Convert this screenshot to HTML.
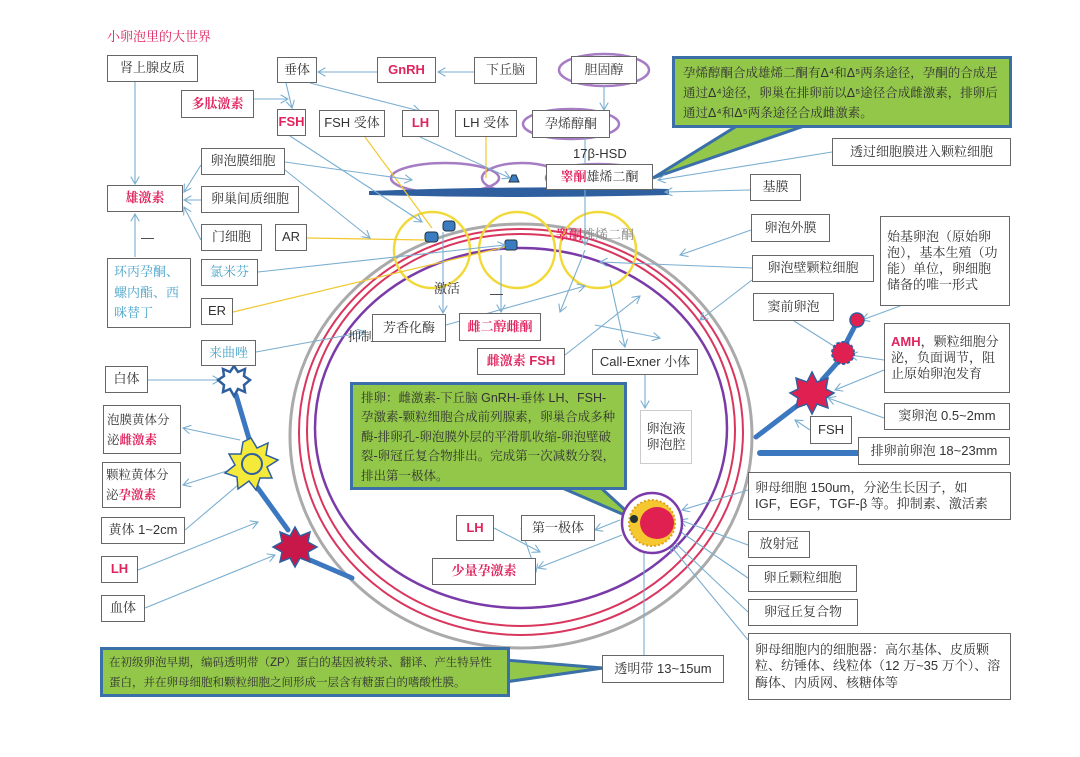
<!DOCTYPE html>
<html><head><meta charset="utf-8"><style>
body{margin:0;width:1080px;height:757px;background:#fff;position:relative;overflow:hidden;font-family:"Liberation Sans","Noto Serif CJK SC","Noto Sans CJK SC",serif;}
.b{position:absolute;border:1.5px solid #666;background:#fff;font-size:13px;color:#333;display:flex;align-items:center;justify-content:center;box-sizing:border-box;line-height:1.25;}
.r{color:#e0245e;font-weight:bold;}
.bl{color:#4aa3c8;}
.t{position:absolute;font-size:13px;color:#333;}
.g{position:absolute;background:#92c74a;border:3px solid #3a6fa8;box-sizing:border-box;font-size:12.5px;color:#333;padding:4px 8px;line-height:1.6;}
.m{justify-content:flex-start;padding:3px 6px;text-align:left;}
.s{padding:2px 3px;font-size:12.5px;}
svg{position:absolute;left:0;top:0}
</style></head><body>
<svg width="1080" height="757">
<defs><marker id="a" markerWidth="8" markerHeight="8" refX="7" refY="4" orient="auto"><path d="M0,0 L7,4 L0,8" fill="none" stroke="#7aaed0" stroke-width="1"/></marker></defs>
<polygon points="740,124 810,124 653,178" fill="#92c74a" stroke="#3a6fa8" stroke-width="3"/>
<polygon points="560,487 600,487 636,520" fill="#92c74a" stroke="#3a6fa8" stroke-width="3"/>
<polygon points="505,660 505,682 603,668" fill="#92c74a" stroke="#3a6fa8" stroke-width="3"/>
<ellipse cx="521" cy="436" rx="231" ry="212" fill="none" stroke="#aaa" stroke-width="3"/>
<ellipse cx="521" cy="432" rx="222" ry="203" fill="none" stroke="#d9365e" stroke-width="2"/>
<ellipse cx="521" cy="430" rx="214" ry="196" fill="none" stroke="#d9365e" stroke-width="2"/>
<ellipse cx="521" cy="428" rx="206" ry="180" fill="none" stroke="#7a3aa8" stroke-width="2.5"/>
<circle cx="432" cy="250" r="38" fill="none" stroke="#f2d93a" stroke-width="2.5"/>
<circle cx="517" cy="250" r="38" fill="none" stroke="#f2d93a" stroke-width="2.5"/>
<circle cx="598" cy="250" r="38" fill="none" stroke="#f2d93a" stroke-width="2.5"/>
<ellipse cx="445" cy="178" rx="54" ry="15" fill="none" stroke="#a67cc4" stroke-width="2.5"/>
<ellipse cx="522" cy="178" rx="40" ry="15" fill="none" stroke="#a67cc4" stroke-width="2.5"/>
<ellipse cx="598" cy="178" rx="52" ry="14" fill="none" stroke="#a67cc4" stroke-width="2.5"/>
<ellipse cx="604" cy="70" rx="45" ry="16" fill="none" stroke="#a67cc4" stroke-width="2.5"/>
<ellipse cx="571" cy="124" rx="48" ry="15" fill="none" stroke="#a67cc4" stroke-width="2.5"/>
<path d="M370,192 Q520,186 668,190 L668,194 Q520,198 370,194Z" fill="#2f5f9e" stroke="#2f5f9e" stroke-width="2"/>
<polygon points="509,182 519,182 516,175 512,175" fill="#3b7cc0" stroke="#234" />
<rect x="425" y="232" width="13" height="10" rx="3" fill="#3b7cc0" stroke="#234"/>
<rect x="443" y="221" width="12" height="10" rx="3" fill="#3b7cc0" stroke="#234"/>
<rect x="505" y="240" width="12" height="10" rx="2" fill="#3b7cc0" stroke="#234"/>
<g stroke="#f0c830" stroke-width="1.2" fill="none">
<line x1="365" y1="137" x2="432" y2="228"/><line x1="307" y1="238" x2="425" y2="240"/><line x1="233" y1="312" x2="505" y2="247"/><line x1="486" y1="137" x2="486" y2="178"/>
</g>
<g stroke="#7aaed0" stroke-width="1.1" fill="none" marker-end="url(#a)">
<line x1="377" y1="72" x2="318" y2="72"/><line x1="474" y1="72" x2="438" y2="72"/>
<line x1="604" y1="86" x2="604" y2="110"/><line x1="254" y1="99" x2="288" y2="99"/>
<line x1="286" y1="83" x2="292" y2="108"/><line x1="310" y1="83" x2="420" y2="111"/>
<line x1="135" y1="82" x2="135" y2="184"/><line x1="135" y1="257" x2="135" y2="214"/>
<line x1="201" y1="165" x2="184" y2="192"/><line x1="201" y1="200" x2="184" y2="200"/>
<line x1="201" y1="240" x2="184" y2="207"/>
<line x1="285" y1="162" x2="412" y2="180"/><line x1="285" y1="170" x2="370" y2="238"/>
<line x1="290" y1="136" x2="422" y2="222"/><line x1="420" y1="137" x2="510" y2="178"/>
<line x1="258" y1="272" x2="505" y2="245"/><line x1="256" y1="352" x2="365" y2="332"/>
<line x1="443" y1="232" x2="443" y2="313"/><line x1="501" y1="255" x2="501" y2="312"/>
<line x1="585" y1="134" x2="585" y2="245"/><line x1="585" y1="250" x2="560" y2="312"/>
<line x1="446" y1="325" x2="585" y2="286"/><line x1="565" y1="355" x2="640" y2="296"/>
<line x1="645" y1="375" x2="645" y2="408"/>
<line x1="832" y1="152" x2="658" y2="180"/><line x1="750" y1="190" x2="665" y2="192"/>
<line x1="751" y1="230" x2="680" y2="255"/><line x1="752" y1="268" x2="600" y2="262"/>
<line x1="752" y1="280" x2="700" y2="320"/><line x1="610" y1="280" x2="625" y2="347"/>
<line x1="595" y1="325" x2="660" y2="338"/>
<line x1="794" y1="321" x2="840" y2="350"/><line x1="900" y1="306" x2="862" y2="320"/>
<line x1="884" y1="360" x2="850" y2="355"/><line x1="884" y1="370" x2="835" y2="390"/>
<line x1="884" y1="418" x2="828" y2="398"/><line x1="810" y1="430" x2="795" y2="420"/>
<line x1="148" y1="380" x2="220" y2="380"/><line x1="240" y1="440" x2="183" y2="428"/>
<line x1="230" y1="470" x2="183" y2="485"/><line x1="185" y1="530" x2="258" y2="468"/>
<line x1="138" y1="570" x2="258" y2="522"/><line x1="145" y1="608" x2="275" y2="555"/>
<line x1="494" y1="528" x2="540" y2="552"/><line x1="521" y1="528" x2="536" y2="572"/>
<line x1="622" y1="535" x2="538" y2="568"/><line x1="620" y1="520" x2="595" y2="530"/>
<line x1="748" y1="490" x2="682" y2="510"/><line x1="748" y1="545" x2="680" y2="520"/>
<line x1="748" y1="578" x2="675" y2="528"/><line x1="748" y1="612" x2="670" y2="538"/>
<line x1="748" y1="640" x2="670" y2="545"/><line x1="644" y1="655" x2="644" y2="545"/>
</g>
<g stroke="#3b78c0" stroke-width="5" fill="none" stroke-linecap="round">
<line x1="236" y1="395" x2="250" y2="442"/><line x1="257" y1="487" x2="288" y2="530"/><line x1="310" y1="560" x2="352" y2="578"/>
<line x1="857" y1="322" x2="845" y2="345"/><line x1="838" y1="362" x2="822" y2="380"/><line x1="798" y1="405" x2="756" y2="437"/>
<line x1="760" y1="453" x2="858" y2="453" stroke-width="6"/>
</g>
<polygon points="234,366 238,372 245,369 244,376 250,380 244,385 245,392 238,389 234,396 230,389 223,392 224,385 218,380 224,376 223,369 230,372" fill="#fff" stroke="#2f5f9e" stroke-width="2.5"/>
<polygon points="251,438 257,448 268,443 266,455 278,460 267,467 272,478 260,478 256,490 249,481 238,489 237,477 225,473 235,465 229,454 241,454 243,442" fill="#f5ea3a" stroke="#2f5f9e" stroke-width="1.5"/>
<circle cx="252" cy="464" r="10" fill="#f5ea3a" stroke="#2f5f9e" stroke-width="2"/>
<polygon points="295,527 300,536 310,532 308,542 317,547 308,552 310,562 300,558 295,567 290,558 280,562 282,552 273,547 282,542 280,532 290,536" fill="#c8184a" stroke="#2f5f9e" stroke-width="1.5"/>
<circle cx="857" cy="320" r="7" fill="#e02050" stroke="#2f5f9e" stroke-width="1.5"/>
<circle cx="843" cy="353" r="11" fill="#e02050" stroke="#2f5f9e" stroke-width="2" stroke-dasharray="3 2"/>
<polygon points="812,372 817,382 828,378 826,389 834,393 826,398 828,408 817,404 812,414 807,404 796,408 798,398 790,393 798,389 796,378 807,382" fill="#e02050" stroke="#2f5f9e" stroke-width="1.5"/>
<circle cx="652" cy="523" r="30" fill="#fff" stroke="#7a3aa8" stroke-width="2.5"/>
<circle cx="652" cy="523" r="23" fill="#f5c830" stroke="#e0a020" stroke-width="2" stroke-dasharray="2 2"/>
<ellipse cx="657" cy="523" rx="17" ry="16" fill="#e02050"/>
<circle cx="634" cy="519" r="4" fill="#233"/>
</svg>
<div class="t" style="left:107px;top:26px;color:#e0245e;font-size:13px">小卵泡里的大世界</div>
<div class="b" style="left:107px;top:55px;width:91px;height:27px">肾上腺皮质</div>
<div class="b" style="left:277px;top:57px;width:40px;height:26px">垂体</div>
<div class="b r" style="left:377px;top:57px;width:59px;height:26px">GnRH</div>
<div class="b" style="left:474px;top:57px;width:63px;height:27px">下丘脑</div>
<div class="b" style="left:571px;top:56px;width:66px;height:28px">胆固醇</div>
<div class="b r" style="left:181px;top:90px;width:73px;height:28px">多肽激素</div>
<div class="b r" style="left:277px;top:109px;width:29px;height:27px">FSH</div>
<div class="b" style="left:319px;top:110px;width:66px;height:27px">FSH 受体</div>
<div class="b r" style="left:402px;top:110px;width:37px;height:27px">LH</div>
<div class="b" style="left:455px;top:110px;width:62px;height:27px">LH 受体</div>
<div class="b" style="left:532px;top:110px;width:78px;height:28px">孕烯醇酮</div>
<div class="t" style="left:573px;top:146px">17β-HSD</div>
<div class="b" style="left:546px;top:164px;width:107px;height:26px"><span><span class="r">睾酮</span>雄烯二酮</span></div>
<div class="t" style="left:556px;top:224px;color:#888"><span class="r">睾酮</span>雄烯二酮</div>
<div class="g" style="left:672px;top:56px;width:340px;height:72px">孕烯醇酮合成雄烯二酮有Δ⁴和Δ⁵两条途径，孕酮的合成是通过Δ⁴途径，卵巢在排卵前以Δ⁵途径合成雌激素，排卵后通过Δ⁴和Δ⁵两条途径合成雌激素。</div>
<div class="b" style="left:832px;top:138px;width:179px;height:28px">透过细胞膜进入颗粒细胞</div>
<div class="b" style="left:750px;top:174px;width:51px;height:27px">基膜</div>
<div class="b" style="left:751px;top:214px;width:79px;height:28px">卵泡外膜</div>
<div class="b" style="left:752px;top:255px;width:122px;height:27px">卵泡壁颗粒细胞</div>
<div class="b m" style="left:880px;top:216px;width:130px;height:90px">始基卵泡（原始卵泡），基本生殖（功能）单位，卵细胞储备的唯一形式</div>
<div class="b" style="left:753px;top:293px;width:81px;height:28px">窦前卵泡</div>
<div class="b m" style="left:884px;top:323px;width:126px;height:70px"><span><span class="r">AMH</span>，颗粒细胞分泌，负面调节，阻止原始卵泡发育</span></div>
<div class="b" style="left:884px;top:403px;width:126px;height:27px">窦卵泡 0.5~2mm</div>
<div class="b" style="left:810px;top:416px;width:42px;height:28px">FSH</div>
<div class="b" style="left:858px;top:437px;width:152px;height:28px">排卵前卵泡 18~23mm</div>
<div class="b m" style="left:748px;top:472px;width:263px;height:48px">卵母细胞 150um，分泌生长因子，如 IGF，EGF，TGF-β 等。抑制素、激活素</div>
<div class="b" style="left:748px;top:531px;width:62px;height:27px">放射冠</div>
<div class="b" style="left:748px;top:565px;width:109px;height:27px">卵丘颗粒细胞</div>
<div class="b" style="left:748px;top:599px;width:110px;height:27px">卵冠丘复合物</div>
<div class="b m" style="left:748px;top:633px;width:263px;height:67px">卵母细胞内的细胞器：高尔基体、皮质颗粒、纺锤体、线粒体（12 万~35 万个）、溶酶体、内质网、核糖体等</div>
<div class="b" style="left:602px;top:655px;width:122px;height:28px">透明带 13~15um</div>
<div class="g" style="left:100px;top:647px;width:410px;height:50px;padding:3px 6px;font-size:11.5px;line-height:1.75">在初级卵泡早期，编码透明带（ZP）蛋白的基因被转录、翻译、产生特异性蛋白，并在卵母细胞和颗粒细胞之间形成一层含有糖蛋白的嗜酸性膜。</div>
<div class="b r" style="left:107px;top:185px;width:76px;height:27px">雄激素</div>
<div class="b" style="left:201px;top:148px;width:84px;height:27px">卵泡膜细胞</div>
<div class="b" style="left:201px;top:186px;width:98px;height:27px">卵巢间质细胞</div>
<div class="b" style="left:201px;top:224px;width:61px;height:27px">门细胞</div>
<div class="b" style="left:275px;top:224px;width:32px;height:27px">AR</div>
<div class="t" style="left:141px;top:230px">—</div>
<div class="b m bl" style="left:107px;top:258px;width:84px;height:70px;line-height:1.6">环丙孕酮、螺内酯、西咪替丁</div>
<div class="b bl" style="left:201px;top:259px;width:57px;height:27px">氯米芬</div>
<div class="b" style="left:201px;top:298px;width:32px;height:27px">ER</div>
<div class="b bl" style="left:201px;top:340px;width:55px;height:26px">来曲唑</div>
<div class="t" style="left:348px;top:326px">抑制</div>
<div class="t" style="left:434px;top:278px">激活</div>
<div class="t" style="left:490px;top:286px">—</div>
<div class="b" style="left:372px;top:314px;width:74px;height:28px">芳香化酶</div>
<div class="b r" style="left:459px;top:313px;width:82px;height:28px">雌二醇雌酮</div>
<div class="b r" style="left:477px;top:348px;width:88px;height:27px">雌激素 FSH</div>
<div class="b" style="left:592px;top:349px;width:106px;height:26px">Call-Exner 小体</div>
<div class="b" style="left:640px;top:410px;width:52px;height:54px;border-color:#ccc;text-align:center">卵泡液<br>卵泡腔</div>
<div class="g" style="left:350px;top:382px;width:277px;height:108px;line-height:1.55">排卵：雌激素-下丘脑 GnRH-垂体 LH、FSH-孕激素-颗粒细胞合成前列腺素，卵巢合成多种酶-排卵孔-卵泡膜外层的平滑肌收缩-卵泡壁破裂-卵冠丘复合物排出。完成第一次减数分裂，排出第一极体。</div>
<div class="b r" style="left:456px;top:515px;width:38px;height:26px">LH</div>
<div class="b" style="left:521px;top:515px;width:74px;height:26px">第一极体</div>
<div class="b r" style="left:432px;top:558px;width:104px;height:27px">少量孕激素</div>
<div class="b" style="left:105px;top:366px;width:43px;height:27px">白体</div>
<div class="b m s" style="left:103px;top:405px;width:78px;height:49px;line-height:1.6"><span>泡膜黄体分泌<span class="r">雌激素</span></span></div>
<div class="b m s" style="left:102px;top:462px;width:79px;height:46px;line-height:1.6"><span>颗粒黄体分泌<span class="r">孕激素</span></span></div>
<div class="b" style="left:101px;top:517px;width:84px;height:27px">黄体 1~2cm</div>
<div class="b r" style="left:101px;top:556px;width:37px;height:27px">LH</div>
<div class="b" style="left:101px;top:595px;width:44px;height:27px">血体</div>
</body></html>
